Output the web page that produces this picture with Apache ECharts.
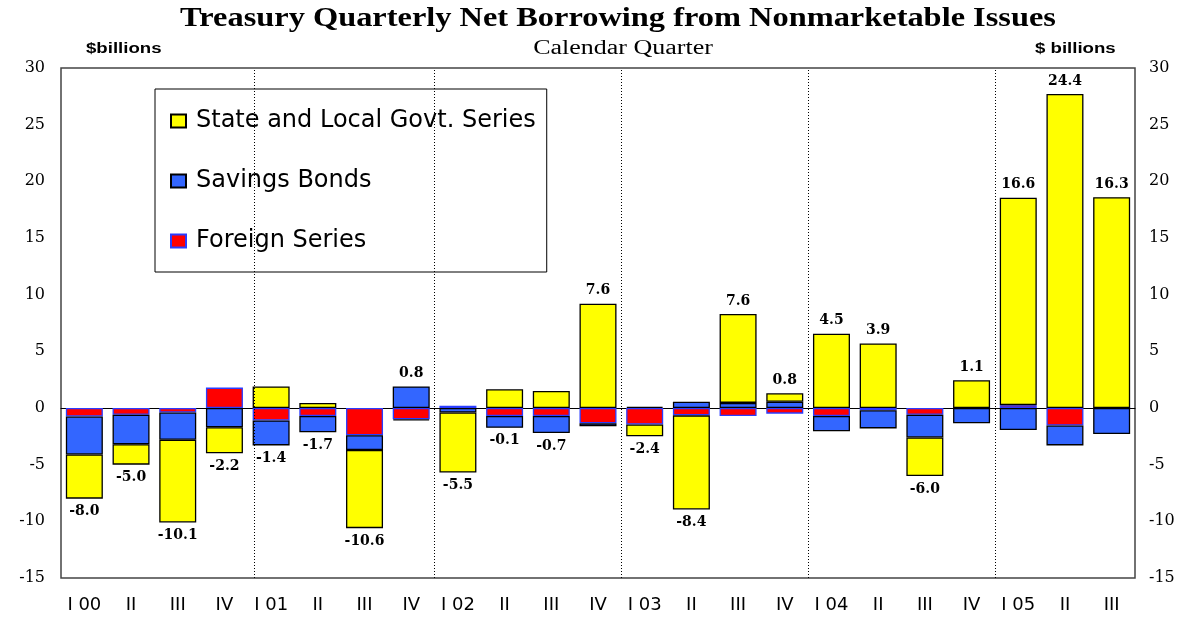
<!DOCTYPE html>
<html>
<head>
<meta charset="utf-8">
<script src="https://cdn.jsdelivr.net/npm/echarts@6/dist/echarts.min.js"></script>
<style>
  html, body { margin: 0; padding: 0; background: #fff; }
  #chart { width: 1195px; height: 621px; }
</style>
</head>
<body>
<div id="chart"></div>
<script>
// quarters and components, $ billions
var quarters = ['I 00', 'II', 'III', 'IV', 'I 01', 'II', 'III', 'IV', 'I 02', 'II', 'III', 'IV',
    'I 03', 'II', 'III', 'IV', 'I 04', 'II', 'III', 'IV', 'I 05', 'II', 'III'];
var slgs = [-3.9, -1.8, -7.3, -2.3, 1.9, 0.45, -6.9, -0.1, -5.3, 1.65, 1.5, 9.2,
    -1.05, -8.3, 7.85, 0.75, 6.55, 5.7, -3.4, 2.45, 18.3, 27.7, 18.6];
var savings = [-3.35, -2.6, -2.4, -1.7, -2.2, -1.45, -1.3, 1.9, -0.4, -1.05, -1.5, -0.25,
    0.1, 0.55, 0.45, 0.55, -1.35, -1.6, -2.0, -1.35, -1.95, -1.75, -2.3];
var foreign = [-0.75, -0.6, -0.4, 1.8, -1.1, -0.7, -2.4, -1.0, 0.2, -0.7, -0.7, -1.35,
    -1.45, -0.65, -0.7, -0.5, -0.7, -0.2, -0.6, 0, 0.25, -1.55, 0];
var netTotals = [-8.0, -5.0, -10.1, -2.2, -1.4, -1.7, -10.6, 0.8, -5.5, -0.1, -0.7, 7.6,
    -2.4, -8.4, 7.6, 0.8, 4.5, 3.9, -6.0, 1.1, 16.6, 24.4, 16.3];
// year separators on the quarter scale
var yearBreaks = [4.13, 8, 12, 16, 20];

var serif = '"Liberation Serif", "Times New Roman", serif';
var sans = '"Liberation Sans", Arial, sans-serif';
var wideSans = '"DejaVu Sans", sans-serif';
var wideSerif = '"DejaVu Serif", serif';

// label anchors: end of the stack on the side of the net total
var labelData = netTotals.map(function (t, i) {
    var parts = [slgs[i], savings[i], foreign[i]];
    var pos = 0, neg = 0;
    parts.forEach(function (v) { if (v > 0) pos += v; else neg += v; });
    return {
        value: t >= 0 ? pos : neg,
        label: { position: t >= 0 ? 'top' : 'bottom', formatter: t.toFixed(1) }
    };
});

var chart = echarts.init(document.getElementById('chart'));

function headText(x, y, text, font, align, sx) {
    return {
        type: 'text', x: x, y: y, scaleX: sx, z: 10,
        style: { text: text, font: font, fill: '#000', align: align, verticalAlign: 'middle' }
    };
}

var option = {
    animation: false,
    backgroundColor: '#fff',
    graphic: [
        headText(618, 19, 'Treasury Quarterly Net Borrowing from Nonmarketable Issues', 'bold 27px ' + serif, 'center', 1.2),
        headText(623, 49, 'Calendar Quarter', '20px ' + serif, 'center', 1.3),
        headText(86, 49, '$billions', 'bold 14px ' + sans, 'left', 1.33),
        headText(1035, 49, '$ billions', 'bold 14px ' + sans, 'left', 1.33)
    ],
    legend: {
        data: ['State and Local Govt. Series', 'Savings Bonds', 'Foreign Series'],
        orient: 'vertical',
        left: 155,
        top: 89,
        icon: 'rect',
        itemGap: 36,
        itemWidth: 15,
        itemHeight: 13,
        padding: [20, 11, 19, 15],
        borderColor: '#000',
        borderWidth: 1,
        backgroundColor: '#fff',
        textStyle: { fontFamily: wideSans, fontSize: 24, color: '#000', padding: [0, 0, 0, 5] }
    },
    grid: {
        left: 61, right: 60, top: 68, bottom: 43,
        show: true, borderColor: '#444', borderWidth: 1.5
    },
    xAxis: [
        {
            type: 'category', data: quarters,
            axisLine: { onZero: true, lineStyle: { color: '#000', width: 1 } },
            axisTick: { inside: true, length: 5, lineStyle: { color: '#000' } },
            axisLabel: { show: false }
        },
        {
            type: 'category', data: quarters, position: 'bottom',
            axisLine: { show: false, onZero: false },
            axisTick: { show: false },
            axisLabel: { fontFamily: wideSans, fontSize: 18, color: '#000', margin: 18 }
        },
        { type: 'value', min: 0, max: quarters.length, show: false }
    ],
    yAxis: [
        {
            type: 'value', min: -15, max: 30, interval: 5, position: 'left',
            axisLine: { show: false }, axisTick: { show: false }, splitLine: { show: false },
            axisLabel: { fontFamily: wideSerif, fontSize: 16, color: '#000', margin: 16 }
        },
        {
            type: 'value', min: -15, max: 30, interval: 5, position: 'right',
            axisLine: { show: false }, axisTick: { show: false }, splitLine: { show: false },
            axisLabel: { fontFamily: wideSerif, fontSize: 16, color: '#000', margin: 14 }
        }
    ],
    series: [
        {
            name: 'Foreign Series', type: 'bar', stack: 'net', barWidth: 37,
            data: foreign,
            itemStyle: { color: '#ff0000', borderColor: '#2a3cff', borderWidth: 1.3 }
        },
        {
            name: 'Savings Bonds', type: 'bar', stack: 'net', barWidth: 37,
            data: savings,
            itemStyle: { color: '#3366ff', borderColor: '#000', borderWidth: 1.3 }
        },
        {
            name: 'State and Local Govt. Series', type: 'bar', stack: 'net', barWidth: 37,
            data: slgs,
            itemStyle: { color: '#ffff00', borderColor: '#000', borderWidth: 1.3 }
        },
        {
            name: 'net', type: 'scatter', symbolSize: 0, data: labelData, z: 5,
            itemStyle: { opacity: 1 },
            label: { show: true, distance: 6, fontFamily: wideSerif, fontWeight: 'bold', fontSize: 14, color: '#000' }
        },
        {
            name: 'years', type: 'scatter', xAxisIndex: 2, symbolSize: 0, data: [[0, 0]], z: 1,
            markLine: {
                silent: true, symbol: 'none', label: { show: false },
                lineStyle: { type: [1, 2], color: '#000', width: 1 },
                data: yearBreaks.map(function (x) { return { xAxis: x }; })
            }
        }
    ]
};

chart.setOption(option);
</script>
</body>
</html>
